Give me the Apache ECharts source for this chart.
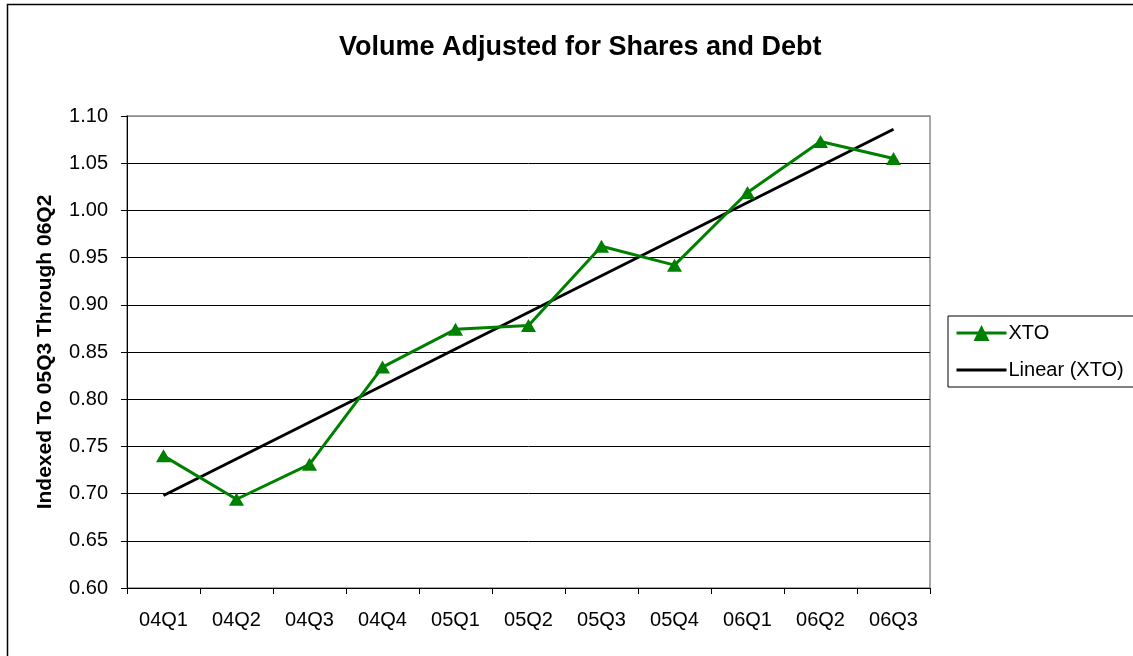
<!DOCTYPE html>
<html>
<head>
<meta charset="utf-8">
<script src="https://cdn.jsdelivr.net/npm/echarts@6/dist/echarts.min.js"></script>
<style>
html,body{margin:0;padding:0;background:#fff;}
#chart{width:1133px;height:656px;}
</style>
</head>
<body>
<div id="chart"></div>
<script>
const categories = ['04Q1','04Q2','04Q3','04Q4','05Q1','05Q2','05Q3','05Q4','06Q1','06Q2','06Q3'];
const xtoValues = [0.740, 0.694, 0.731, 0.834, 0.874, 0.878, 0.962, 0.942, 1.019, 1.073, 1.055];
// Linear trendline endpoints (first and last category)
const trendValues = [0.698, null, null, null, null, null, null, null, null, null, 1.086];
const titleText = 'Volume Adjusted for Shares and Debt';
const yAxisTitle = 'Indexed To 05Q3 Through 06Q2';
const seriesNames = ['XTO', 'Linear (XTO)'];

const FONT = '"Liberation Sans", Arial, sans-serif';
// gridline colours from 0.60 up to 1.10 (top line is the grey plot border)
const gridColors = ['#000','#000','#000','#000','#000','#000','#000','#000','#000','#000','#8c8c8c'];

const chart = echarts.init(document.getElementById('chart'));
chart.setOption({
  animation: false,
  backgroundColor: '#ffffff',
  graphic: [{
    type: 'rect', z: -10, silent: true,
    shape: { x: 7.5, y: 4.5, width: 1300, height: 800 },
    style: { fill: 'none', stroke: '#000', lineWidth: 1.5 }
  }],
  title: {
    text: titleText, left: 334, top: 29,
    textStyle: { fontFamily: FONT, fontSize: 27, fontWeight: 'bold', color: '#000' }
  },
  grid: {
    left: 127, top: 116, right: 203, bottom: 68,
    show: true, borderColor: '#8c8c8c', borderWidth: 1.5
  },
  legend: {
    orient: 'vertical', left: 948, top: 316,
    data: [
      { name: seriesNames[0], lineStyle: { width: 3 } },
      { name: seriesNames[1], icon: 'path://M0,0 L50,0 L50,3 L0,3 Z' }
    ],
    itemWidth: 50, itemHeight: 20, itemGap: 17,
    padding: [7, 40, 7, 7],
    borderColor: '#000', borderWidth: 1,
    textStyle: { fontFamily: FONT, fontSize: 20, color: '#000', padding: [0,0,0,-3] }
  },
  xAxis: {
    type: 'category', data: categories, boundaryGap: true,
    axisLine: { lineStyle: { color: '#000', width: 1 } },
    axisTick: { show: true, length: 6, lineStyle: { color: '#000' } },
    axisLabel: { fontFamily: FONT, fontSize: 20, color: '#000', margin: 22 },
    splitLine: { show: false }
  },
  yAxis: {
    type: 'value', min: 0.6, max: 1.1, interval: 0.05,
    name: yAxisTitle, nameLocation: 'middle', nameGap: 71, nameRotate: 90,
    nameTextStyle: { fontFamily: FONT, fontSize: 21, fontWeight: 'bold', color: '#000' },
    axisLine: { show: true, lineStyle: { color: '#000', width: 1 } },
    axisTick: { show: true, length: 6, lineStyle: { color: '#000' } },
    axisLabel: { fontFamily: FONT, fontSize: 20, color: '#000', margin: 19,
      formatter: v => v.toFixed(2) },
    splitLine: { show: true, lineStyle: { color: gridColors, width: 1 } }
  },
  series: [
    {
      name: seriesNames[0], type: 'line', data: xtoValues,
      symbol: 'triangle', symbolSize: [15, 13],
      lineStyle: { color: '#008000', width: 3 },
      itemStyle: { color: '#008000' },
      z: 3
    },
    {
      name: seriesNames[1], type: 'line', data: trendValues,
      connectNulls: true, symbol: 'none',
      lineStyle: { color: '#000', width: 3 },
      itemStyle: { color: '#000' },
      z: 2
    }
  ]
});
</script>
</body>
</html>
